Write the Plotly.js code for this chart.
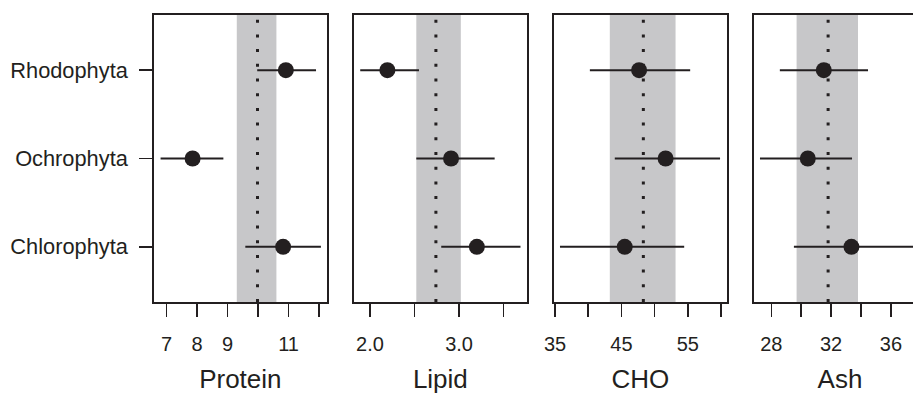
<!DOCTYPE html>
<html>
<head>
<meta charset="utf-8">
<script src="https://cdn.plot.ly/plotly-3.0.1.min.js"></script>
<style>
html,body{margin:0;padding:0;overflow:hidden;background:#fff;width:913px;height:394px;}
#chart{width:940px;height:394px;}
</style>
</head>
<body>
<div id="chart"></div>
<script>
// Categories (top to bottom in the picture: Rhodophyta, Ochrophyta, Chlorophyta)
const groups = ['Rhodophyta', 'Ochrophyta', 'Chlorophyta'];
const categoryOrder = ['Chlorophyta', 'Ochrophyta', 'Rhodophyta'];

const panelNames = ['Protein', 'Lipid', 'CHO', 'Ash'];

// Means and interval bounds per group (order: Rhodophyta, Ochrophyta, Chlorophyta)
const proteinMean = [10.91, 7.85, 10.82];
const proteinLo   = [9.97, 6.80, 9.58];
const proteinHi   = [11.90, 8.86, 12.06];

const lipidMean = [2.195, 2.91, 3.20];
const lipidLo   = [1.89, 2.52, 2.80];
const lipidHi   = [2.55, 3.40, 3.69];

const choMean = [47.66, 51.65, 45.5];
const choLo   = [40.25, 44.0, 35.75];
const choHi   = [55.35, 59.85, 54.45];

const ashMean = [31.51, 30.44, 33.36];
const ashLo   = [28.57, 27.24, 29.51];
const ashHi   = [34.47, 33.40, 37.5];

// Overall mean (dotted line) and its band (grey) per panel
const overallMean = [9.98, 2.74, 48.3, 31.8];
const bandLo = [9.30, 2.52, 43.25, 29.69];
const bandHi = [10.60, 3.02, 53.15, 33.80];

// Axis ranges and tick labels
const xRanges = [[6.584, 12.25], [1.82, 3.76], [34.85, 60.85], [26.84, 38.35]];
const proteinTicks = [7, 8, 9, 10, 11, 12];
const proteinTickText = ['7', '8', '9', '', '11', ''];
const lipidTicks = [2.0, 2.5, 3.0, 3.5];
const lipidTickText = ['2.0', '', '3.0', ''];
const choTicks = [35, 40, 45, 50, 55, 60];
const choTickText = ['35', '', '45', '', '55', ''];
const ashTicks = [28, 30, 32, 34, 36, 38];
const ashTickText = ['28', '', '32', '', '36', ''];

const means = [proteinMean, lipidMean, choMean, ashMean];
const los = [proteinLo, lipidLo, choLo, ashLo];
const his = [proteinHi, lipidHi, choHi, ashHi];
const tickVals = [proteinTicks, lipidTicks, choTicks, ashTicks];
const tickTexts = [proteinTickText, lipidTickText, choTickText, ashTickText];

const ink = '#231f20';
const fontFam = 'Liberation Sans, Arial, Helvetica, sans-serif';

// Pixel layout (plot area in a 940px-wide div; last panel clipped by window)
const W = 940, mL = 154, mR = 14;
const plotW = W - mL - mR;
const panelW = 172.7, gap = 27.3;

const traces = [];
const shapes = [];
const layout = {
  width: W, height: 394,
  margin: {l: mL, r: mR, t: 15, b: 92, pad: 0},
  paper_bgcolor: '#fff', plot_bgcolor: '#fff',
  showlegend: false,
  font: {family: fontFam, color: ink, size: 20},
  shapes: shapes
};

for (let i = 0; i < 4; i++) {
  const sfx = i === 0 ? '' : String(i + 1);
  const xa = 'x' + sfx, ya = 'y' + sfx;
  const m = means[i];
  traces.push({
    type: 'scatter', mode: 'markers',
    x: m, y: groups,
    xaxis: xa, yaxis: ya,
    marker: {size: 16, color: ink},
    error_x: {
      type: 'data', symmetric: false,
      array: m.map((v, k) => his[i][k] - v),
      arrayminus: m.map((v, k) => v - los[i][k]),
      width: 0, thickness: 2, color: ink
    },
    cliponaxis: true,
    hoverinfo: 'x+y'
  });
  const d0 = (i * (panelW + gap)) / plotW;
  const d1 = Math.min(1, (i * (panelW + gap) + panelW) / plotW);
  layout['xaxis' + sfx] = {
    domain: [d0, d1], anchor: ya, range: xRanges[i],
    tickmode: 'array', tickvals: tickVals[i], ticktext: tickTexts[i],
    ticks: 'outside', ticklen: 13, tickwidth: 1.6, tickcolor: ink,
    ticklabelstandoff: 10,
    showline: true, mirror: true, linecolor: ink, linewidth: 1.8,
    showgrid: false, zeroline: false,
    tickfont: {size: 20, family: fontFam, color: ink},
    title: {text: panelNames[i], font: {size: 26, family: fontFam, color: ink}, standoff: 18},
    fixedrange: true
  };
  layout['yaxis' + sfx] = {
    domain: [0, 1], anchor: xa,
    type: 'category', categoryorder: 'array', categoryarray: categoryOrder,
    range: [-0.625, 2.625],
    showline: true, mirror: true, linecolor: ink, linewidth: 1.8,
    showgrid: false, zeroline: false,
    ticks: i === 0 ? 'outside' : '', ticklen: 13, tickwidth: 1.6, tickcolor: ink,
    ticklabelstandoff: 7,
    showticklabels: i === 0,
    tickfont: {size: 21.8, family: fontFam, color: ink},
    fixedrange: true
  };
  shapes.push({
    type: 'rect', layer: 'below', xref: xa, yref: ya + ' domain',
    x0: bandLo[i], x1: bandHi[i], y0: 0, y1: 1,
    fillcolor: '#c7c7c9', line: {width: 0}
  });
  shapes.push({
    type: 'line', layer: 'below', xref: xa, yref: ya + ' domain',
    x0: overallMean[i], x1: overallMean[i], y0: 0, y1: 1,
    line: {color: ink, width: 3, dash: '3px,11.7px'}
  });
}

Plotly.newPlot('chart', traces, layout, {displayModeBar: false, staticPlot: true});
</script>
</body>
</html>
